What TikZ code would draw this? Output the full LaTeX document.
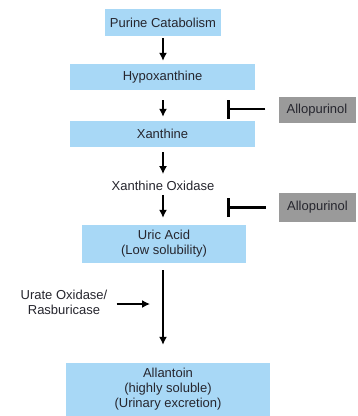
\documentclass[tikz,border=0pt]{standalone}
\usepackage{fontspec}
\setmainfont{Liberation Sans}
\usetikzlibrary{arrows.meta}
\definecolor{boxblue}{HTML}{A8D8F6}
\definecolor{boxgray}{HTML}{9A9A9A}
\definecolor{txt}{HTML}{26262E}
\begin{document}
\begin{tikzpicture}[x=1pt,y=-1pt,
  every node/.style={text=txt,font=\fontsize{13}{15}\selectfont,align=center},
  bluebox/.style={fill=boxblue,draw=none,inner sep=0pt,minimum height=#1},
  graybox/.style={fill=boxgray,draw=none,inner sep=0pt,minimum width=77pt},
  flow/.style={line width=1.4pt,draw=black,-{Latex[length=8pt,width=8pt]}},
  inhib/.style={line width=2.3pt,draw=black,-{Bar[width=19pt,line width=2.8pt]}}]
\useasboundingbox (0,0) rectangle (358,416);
\fill[white] (0,0) rectangle (358,416);
\node[bluebox=27pt,minimum width=116pt] (purine) at (163,22.5) {Purine Catabolism};
\node[bluebox=26pt,minimum width=185pt] (hypo) at (162.5,77) {Hypoxanthine};
\node[bluebox=26pt,minimum width=185pt] (xan) at (162.5,134) {Xanthine};
\node[inner sep=0pt] (xo) at (163,186) {Xanthine Oxidase};
\node[bluebox=38pt,minimum width=164pt] (uric) at (164,244) {Uric Acid\\(Low solubility)};
\node[bluebox=53pt,minimum width=204pt] (allan) at (168,389.5) {Allantoin\\(highly soluble)\\(Urinary excretion)};
\node[graybox,minimum height=26pt] (allo1) at (317,110) {Allopurinol};
\node[graybox,minimum height=29pt] (allo2) at (317.5,207.5) {Allopurinol};
\node[inner sep=0pt] (urate) at (64,302.5) {Urate Oxidase/\\Rasburicase};
\coordinate (t1) at (227,109);
\coordinate (t2) at (227,207.5);
\coordinate (u) at (150,304);
\coordinate (ax) at (163,0);
\draw[flow,shorten <=2pt,shorten >=3pt] (ax |- purine.south) -- (ax |- hypo.north);
\draw[flow,shorten <=10pt,shorten >=4pt] (ax |- hypo.south) -- (ax |- xan.north);
\draw[flow,shorten <=5pt,shorten >=7pt] (ax |- xan.south) -- (ax |- xo.north);
\draw[flow,shorten <=4pt,shorten >=7pt] (ax |- xo.south) -- (ax |- uric.north);
\draw[flow,shorten <=7pt,shorten >=18pt] (ax |- uric.south) -- (ax |- allan.north);
\draw[inhib,shorten <=13pt] (allo1.west |- t1) -- (t1);
\draw[inhib,shorten <=13pt] (allo2.west) -- (t2);
\draw[flow,shorten <=9pt] (urate.east |- u) -- (u);
\end{tikzpicture}
\end{document}
